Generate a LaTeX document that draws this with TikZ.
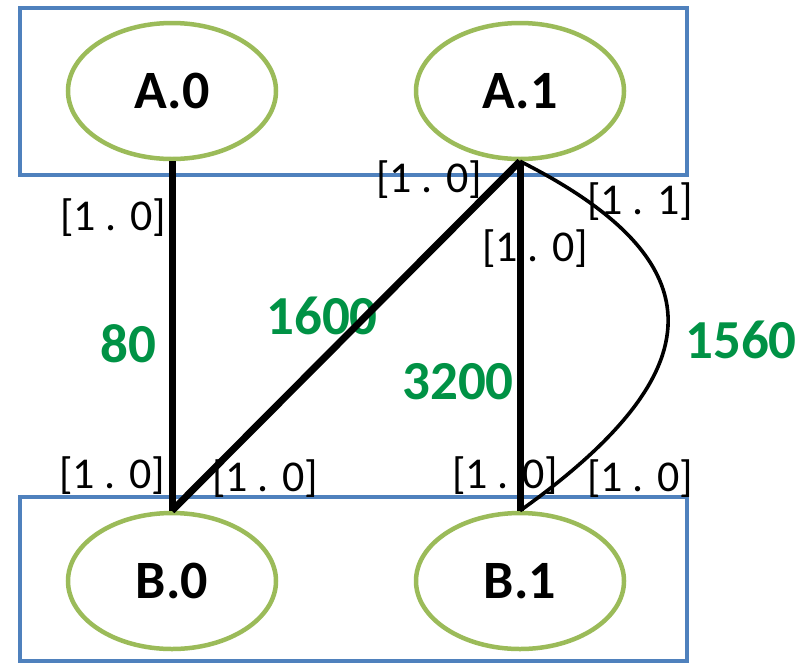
\documentclass[tikz,border=0pt]{standalone}
\usepackage{fontspec}
\setmainfont{Carlito}
\usetikzlibrary{shapes.geometric}
\definecolor{boxblue}{RGB}{79,129,189}
\definecolor{ellgreen}{RGB}{155,187,89}
\definecolor{numgreen}{RGB}{0,146,69}
\tikzset{
  group/.style={draw=boxblue, line width=4pt},
  state/.style={ellipse, draw=ellgreen, line width=4.5pt, minimum width=208pt, minimum height=136pt, inner sep=0pt, font=\fontsize{54}{60}\selectfont\bfseries},
  port/.style={font=\fontsize{44}{50}\selectfont, inner sep=0pt},
  cost/.style={font=\fontsize{55}{62}\selectfont\bfseries, text=numgreen, inner sep=0pt},
  heavy/.style={line width=7pt},
  light/.style={line width=3.6pt}
}
\begin{document}
\begin{tikzpicture}[x=1pt,y=-1pt]
\useasboundingbox (0,0) rectangle (810,662);
\draw[group] (20,8) rectangle (687,175);
\draw[group] (20,497) rectangle (687,661);
\node[state] (A0) at (172,91) {A.0};
\node[state] (A1) at (520,91) {A.1};
\node[state] (B0) at (172,581) {B.0};
\node[state] (B1) at (520,581) {B.1};
% port labels
\node[port] (p1) at (113,218) {[1 . 0]};
\node[port] (p2) at (429,180) {[1 . 0]};
\node[port] (p3) at (640,202) {[1 . 1]};
\node[port] (p4) at (535,249) {[1 . 0]};
\node[port] (p5) at (112,476) {[1 . 0]};
\node[port] (p6) at (265,479) {[1 . 0]};
\node[port] (p7) at (505,476) {[1 . 0]};
\node[port] (p8) at (640,479) {[1 . 0]};
% costs
\node[cost] (c1) at (128,344) {80};
\node[cost] (c2) at (322,316) {1600};
\node[cost] (c3) at (458,382) {3200};
\node[cost] (c4) at (741,340) {1560};
% connectors
\draw[heavy] (A0.south) -- (B0.north);
\draw[heavy] (A1.south) -- (B0.north);
\draw[heavy] (A1.south) -- (B1.north);
\draw[light] (A1.south) .. controls (720,262) and (715,372) .. (B1.north);
\end{tikzpicture}
\end{document}
